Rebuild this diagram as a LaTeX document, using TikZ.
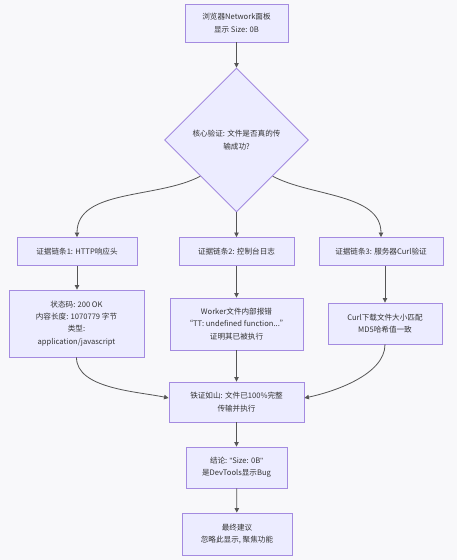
\documentclass[tikz,border=0pt]{standalone}
\usepackage{fontspec}
\setmainfont{Noto Sans CJK SC}
\newfontfamily\latinq{Liberation Sans}
\usetikzlibrary{shapes.geometric,arrows.meta,calc}
\definecolor{bg}{HTML}{F8F8FA}
\definecolor{nfill}{HTML}{ECECFF}
\definecolor{nstroke}{HTML}{A48BE0}
\definecolor{ink}{HTML}{333333}
\definecolor{edge}{HTML}{555555}
\begin{document}
\begin{tikzpicture}[x=1pt,y=1pt,
  every node/.style={font=\fontsize{7.6pt}{12.3pt}\selectfont, text=ink},
  box/.style={draw=nstroke, fill=nfill, line width=0.9pt, align=center, inner sep=0pt},
  dia/.style={draw=nstroke, fill=nfill, line width=0.9pt, diamond, aspect=1, align=center, inner sep=0pt, minimum width=144pt, minimum height=144pt},
  conn/.style={draw=edge, line width=0.8pt, -{Triangle[length=4.5pt,width=4.5pt]}}]
\fill[bg] (0,0) rectangle (457,-560);
\useasboundingbox (0,0) rectangle (457,-560);

\node[box, minimum width=103pt, minimum height=38pt] (top) at (236.5,-23) {浏览器Network面板\\显示 Size: 0B};
\node[dia] (d) at (236.5,-140) {核心验证: 文件是否真的传\\输成功?};

\node[box, minimum width=120pt, minimum height=28pt] (c1) at (77,-251.5) {证据链条1: HTTP响应头};
\node[box, minimum width=115pt, minimum height=28pt] (c2) at (236.5,-251.5) {证据链条2: 控制台日志};
\node[box, minimum width=124pt, minimum height=28pt] (c3) at (381,-251.5) {证据链条3: 服务器Curl验证};

\node[box, minimum width=135pt, minimum height=67pt] (b1) at (76.5,-323.5) {状态码: 200 OK\\内容长度: 1070779 字节\\类型:\\application/javascript};
\node[box, minimum width=133pt, minimum height=52pt] (b2) at (236.5,-324) {Worker文件内部报错\\“TT: undefined function...”\\证明其已被执行};
\node[box, minimum width=114pt, minimum height=41pt] (b3) at (385,-323.5) {Curl下载文件大小匹配\\MD5哈希值一致};

\node[box, minimum width=135pt, minimum height=40pt] (m) at (236.5,-402) {铁证如山: 文件已100\%完整\\传输并执行};
\node[box, minimum width=101pt, minimum height=41pt] (cc) at (236.5,-467.5) {结论: {\latinq"}Size: 0B{\latinq"}\\是DevTools显示Bug};
\node[box, minimum width=110pt, minimum height=42pt] (fin) at (237,-534) {最终建议\\忽略此显示, 聚焦功能};

\draw[conn] (top) -- (d);
\draw[conn] (d.south west) to[out=208,in=90,looseness=0.9] (c1.north);
\draw[conn] (d) -- (c2);
\draw[conn] (d.south east) to[out=-28,in=90,looseness=0.9] (c3.north);
\draw[conn] (c1) -- (b1.north -| c1.south);
\draw[conn] (c2) -- (b2);
\draw[conn] (c3.south -| b3.north) -- (b3.north);
\draw[conn] (b1.south) to[out=-90,in=168,looseness=0.8] ($(m.west)+(0,4)$);
\draw[conn] (b2) -- (m);
\draw[conn] (b3.south) to[out=-90,in=12,looseness=0.8] ($(m.east)+(0,4)$);
\draw[conn] (m) -- (cc);
\draw[conn] (cc) -- (fin);
\end{tikzpicture}
\end{document}
